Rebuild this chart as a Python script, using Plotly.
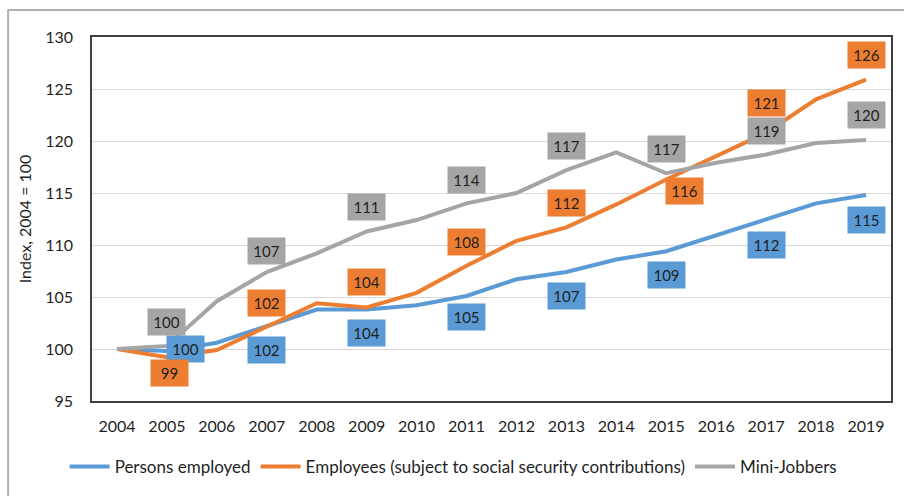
import plotly.graph_objects as go

# Index values, 2004 = 100
years = [str(y) for y in range(2004, 2020)]
persons_employed = [100.0, 99.8, 100.6, 102.2, 103.8, 103.8, 104.2, 105.1,
                    106.7, 107.4, 108.6, 109.4, 110.9, 112.4, 114.0, 114.8]
employees_ssc = [100.0, 99.2, 99.9, 102.1, 104.4, 104.0, 105.4, 108.0,
                 110.4, 111.7, 113.9, 116.3, 118.5, 120.8, 124.0, 125.9]
mini_jobbers = [100.0, 100.3, 104.6, 107.4, 109.2, 111.3, 112.4, 114.0,
                115.0, 117.2, 118.9, 116.9, 117.9, 118.7, 119.8, 120.1]

series_names = ["Persons employed",
                "Employees (subject to social security contributions)",
                "Mini-Jobbers"]
series_values = [persons_employed, employees_ssc, mini_jobbers]
series_colors = ["#5B9BD5", "#ED7D31", "#A5A5A5"]

# value labels are shown on every second year
label_years = years[1::2]

# label offsets in pixels (x, y) per series, one per labelled year
label_offsets = [
    [(19, 2), (0, -24), (0, -24), (0, -21), (0, -24), (0, -24), (0, -25), (0, -25)],
    [(3, -16), (0, 24), (0, 25), (0, 24), (0, 24), (18, -12), (0, 30), (0, 25)],
    [(0, 24), (0, 21), (0, 24), (0, 23), (0, 24), (0, 24), (0, 24), (0, 25)],
]

FONT = "Lato, 'Open Sans', sans-serif"
TEXT = "#1f1f1f"

fig = go.Figure()
for name, vals, col in zip(series_names, series_values, series_colors):
    fig.add_trace(go.Scatter(
        x=years, y=vals, name=name, mode="lines",
        line=dict(color=col, width=4),
        hoverinfo="x+y+name",
    ))

annotations = []
for vals, col, offs in zip(series_values, series_colors, label_offsets):
    for yr, (dx, dy) in zip(label_years, offs):
        i = years.index(yr)
        v = vals[i]
        annotations.append(dict(
            x=i, y=v, xref="x", yref="y",
            text=f"{v:.0f}", showarrow=False,
            xshift=dx, yshift=dy,
            bgcolor=col, width=37, height=26, borderpad=0,
            font=dict(family=FONT, size=15, color=TEXT),
        ))

fig.update_layout(
    width=904, height=496,
    margin=dict(l=92, r=11, t=37, b=94),
    paper_bgcolor="white", plot_bgcolor="white",
    font=dict(family=FONT, size=16, color=TEXT),
    showlegend=True,
    legend=dict(orientation="h", x=0.4526, y=-0.181,
                xanchor="center", yanchor="middle",
                font=dict(family=FONT, size=17, color=TEXT),
                itemwidth=40, tracegroupgap=0),
    annotations=annotations,
    shapes=[
        dict(type="line", xref="paper", yref="paper",
             x0=-0.105, x1=-0.105, y0=1.074, y1=-0.4,
             line=dict(color="#B0B0B0", width=2)),
        dict(type="line", xref="paper", yref="paper",
             x0=-0.106, x1=1.2, y0=1.074, y1=1.074,
             line=dict(color="#B0B0B0", width=2)),
    ],
)

fig.update_xaxes(
    type="category", range=[-0.5, 15.5],
    showgrid=False, showline=True, mirror=True,
    linecolor="#404040", linewidth=1.5,
    ticks="", ticklabelstandoff=10,
    tickfont=dict(family=FONT, size=16, color=TEXT),
)
fig.update_yaxes(
    range=[95, 130], dtick=5, tick0=95,
    showgrid=True, gridcolor="#D9D9D9", gridwidth=1,
    zeroline=False, showline=True, mirror=True,
    linecolor="#404040", linewidth=1.5,
    ticks="", ticklabelstandoff=14,
    tickfont=dict(family=FONT, size=16, color=TEXT),
    title=dict(text="Index, 2004 = 100", standoff=10,
               font=dict(family=FONT, size=16, color=TEXT)),
)

fig.write_html("out.html")
